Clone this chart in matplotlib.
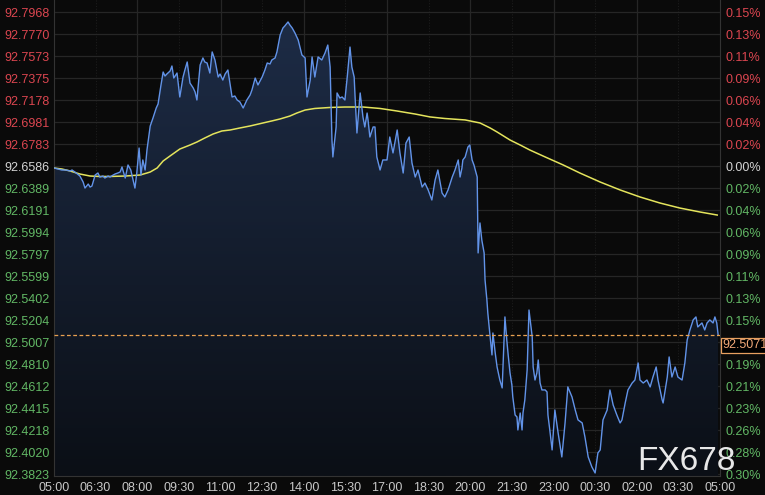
import numpy as np
import matplotlib.pyplot as plt
from matplotlib.colors import LinearSegmentedColormap
from matplotlib.transforms import blended_transform_factory

plt.rcParams['font.family'] = ['Liberation Sans', 'DejaVu Sans']

# minutes since 05:00 and price
minutes = [0, 9, 17, 26, 35, 39, 48, 56, 63, 67, 74, 78, 82, 89, 95, 99, 106, 110, 117, 121,
           128, 132, 138, 143, 147, 154, 160, 166, 171, 175, 179, 184, 188, 192, 197, 201, 208, 214, 221, 225,
           231, 236, 240, 244, 251, 255, 259, 266, 272, 279, 283, 288, 294, 301, 305, 309, 316, 322, 326, 331,
           337, 342, 348, 355, 359, 365, 370, 376, 381, 385, 391, 396, 402, 409, 417, 424, 428, 435, 441, 450,
           456, 461, 467, 471, 478, 482, 489, 495, 499, 506, 510, 515, 521, 528, 536, 543, 547, 554, 558, 564,
           571, 579, 586, 592, 597, 601, 603, 610, 612, 618, 623, 629, 634, 640, 644, 649, 651, 655, 662, 668,
           672, 677, 679, 683, 688, 690, 694, 698, 705, 711, 720, 726, 733, 742, 748, 755, 761, 768, 774, 781,
           787, 796, 802, 809, 817, 824, 830, 839, 845, 852, 861, 867, 874, 878, 882, 884, 889, 895, 899, 904,
           908, 915, 917, 921, 925, 930, 932, 936, 938, 943, 947, 949, 954, 958, 964, 969, 975, 979, 982, 986,
           990, 992, 997, 1001, 1003, 1008, 1012, 1014, 1018, 1023, 1027, 1034, 1036, 1040, 1044, 1047, 1051, 1055, 1062, 1066,
           1068, 1072, 1077, 1083, 1090, 1098, 1105, 1111, 1120, 1127, 1133, 1142, 1148, 1155, 1163, 1170, 1176, 1181, 1187, 1196,
           1202, 1209, 1217, 1224, 1228, 1235, 1241, 1250, 1256, 1263, 1267, 1274, 1282, 1289, 1295, 1302, 1306, 1315, 1317, 1326,
           1330, 1336, 1343, 1349, 1358, 1364, 1369, 1375, 1382, 1388, 1392, 1401, 1407, 1412, 1418, 1425, 1429, 1433, 1436]
price = [92.6569, 92.6560, 92.6551, 92.6551, 92.6542, 92.6551, 92.6524, 92.6497, 92.6443, 92.6389,
         92.6425, 92.6398, 92.6407, 92.6506, 92.6524, 92.6488, 92.6497, 92.6479, 92.6497, 92.6488,
         92.6506, 92.6515, 92.6524, 92.6533, 92.6578, 92.6479, 92.6596, 92.6551, 92.6461, 92.6389,
         92.6524, 92.6748, 92.6506, 92.6641, 92.6551, 92.6730, 92.6945, 92.7017, 92.7107, 92.7143,
         92.7305, 92.7430, 92.7394, 92.7412, 92.7439, 92.7484, 92.7376, 92.7421, 92.7206, 92.7385,
         92.7448, 92.7520, 92.7331, 92.7287, 92.7251, 92.7179, 92.7493, 92.7556, 92.7520, 92.7511,
         92.7421, 92.7610, 92.7538, 92.7385, 92.7412, 92.7358, 92.7412, 92.7448, 92.7314, 92.7206,
         92.7215, 92.7179, 92.7161, 92.7107, 92.7179, 92.7224, 92.7269, 92.7376, 92.7314, 92.7385,
         92.7448, 92.7511, 92.7502, 92.7538, 92.7556, 92.7610, 92.7762, 92.7825, 92.7843, 92.7879,
         92.7852, 92.7825, 92.7780, 92.7717, 92.7583, 92.7556, 92.7206, 92.7358, 92.7565, 92.7385,
         92.7565, 92.7538, 92.7601, 92.7672, 92.7475, 92.6820, 92.6668, 92.6937, 92.7242, 92.7197,
         92.7206, 92.7179, 92.7385, 92.7654, 92.7475, 92.7385, 92.7206, 92.6883, 92.7242, 92.7027,
         92.6937, 92.7062, 92.7000, 92.6847, 92.6910, 92.6937, 92.6937, 92.6668, 92.6551, 92.6641,
         92.6641, 92.6847, 92.6704, 92.6910, 92.6704, 92.6524, 92.6793, 92.6847, 92.6614, 92.6488,
         92.6551, 92.6398, 92.6434, 92.6372, 92.6282, 92.6461, 92.6551, 92.6345, 92.6309, 92.6372,
         92.6488, 92.6551, 92.6641, 92.6488, 92.6569, 92.6641, 92.6668, 92.6757, 92.6775, 92.6641,
         92.6596, 92.6488, 92.5807, 92.6076, 92.5923, 92.5807, 92.5564, 92.5385, 92.5268, 92.5053,
         92.4892, 92.5089, 92.4910, 92.4784, 92.4667, 92.4596, 92.5233, 92.5026, 92.4892, 92.4730,
         92.4623, 92.4515, 92.4353, 92.4336, 92.4219, 92.4371, 92.4219, 92.4371, 92.4488, 92.4757,
         92.5295, 92.5053, 92.4784, 92.4667, 92.4730, 92.4847, 92.4640, 92.4578, 92.4578, 92.4560,
         92.4353, 92.4219, 92.4040, 92.4398, 92.4192, 92.3977, 92.4282, 92.4605, 92.4515, 92.4398,
         92.4309, 92.4282, 92.4156, 92.3977, 92.3887, 92.3833, 92.4013, 92.4040, 92.4309, 92.4398,
         92.4578, 92.4443, 92.4353, 92.4282, 92.4309, 92.4461, 92.4578, 92.4640, 92.4667, 92.4820,
         92.4667, 92.4640, 92.4667, 92.4605, 92.4694, 92.4784, 92.4667, 92.4488, 92.4461, 92.4694,
         92.4874, 92.4694, 92.4784, 92.4694, 92.4667, 92.4820, 92.5026, 92.5116, 92.5206, 92.5233,
         92.5143, 92.5179, 92.5116, 92.5179, 92.5206, 92.5179, 92.5233, 92.5179, 92.5071]

# moving average (yellow)
ma_minutes = [0, 17, 35, 56, 78, 99, 121, 154, 186, 201, 208, 223, 236, 251, 272, 294, 309, 326, 344, 363,
              381, 402, 424, 452, 471, 489, 510, 525, 543, 564, 597, 629, 668, 705, 742, 755, 781, 813, 845, 889,
              921, 943, 958, 986, 1008, 1029, 1062, 1101, 1137, 1181, 1224, 1267, 1310, 1353, 1397, 1434]
ma_price = [92.6569, 92.6560, 92.6542, 92.6515, 92.6497, 92.6493, 92.6493, 92.6497, 92.6506, 92.6524,
            92.6533, 92.6569, 92.6632, 92.6677, 92.6739, 92.6775, 92.6802, 92.6838, 92.6874, 92.6901,
            92.6910, 92.6928, 92.6946, 92.6973, 92.6991, 92.7009, 92.7035, 92.7062, 92.7089, 92.7103,
            92.7112, 92.7116, 92.7116, 92.7103, 92.7080, 92.7071, 92.7053, 92.7027, 92.7013, 92.7000,
            92.6973, 92.6928, 92.6892, 92.6820, 92.6775, 92.6730, 92.6668, 92.6596, 92.6524, 92.6443,
            92.6372, 92.6309, 92.6255, 92.6210, 92.6174, 92.6147]

y_ticks = [92.7968, 92.7770, 92.7573, 92.7375, 92.7178, 92.6981, 92.6783, 92.6586, 92.6389, 92.6191,
           92.5994, 92.5797, 92.5599, 92.5402, 92.5204, 92.5007, 92.4810, 92.4612, 92.4415, 92.4218,
           92.4020, 92.3823]
pct_labels = ['0.15%', '0.13%', '0.11%', '0.09%', '0.06%', '0.04%', '0.02%', '0.00%', '0.02%', '0.04%',
              '0.06%', '0.09%', '0.11%', '0.13%', '0.15%', '0.17%', '0.19%', '0.21%', '0.23%', '0.26%',
              '0.28%', '0.30%']
x_ticks = list(range(0, 1441, 90))
x_labels = ['05:00', '06:30', '08:00', '09:30', '11:00', '12:30', '14:00', '15:30', '17:00',
            '18:30', '20:00', '21:30', '23:00', '00:30', '02:00', '03:30', '05:00']
open_price = 92.6586
last_price = 92.5071

BG = '#0a0a0a'
RED = '#dc4650'
GREEN = '#62b865'
NEUTRAL = '#d4d4d4'
GRID = '#262626'

fig = plt.figure(figsize=(7.65, 4.95), dpi=100, facecolor=BG)
ax = fig.add_axes([54 / 765, 19 / 495, 666 / 765, 476 / 495])
ax.set_facecolor(BG)
ylo, yhi = 92.3806, 92.8076

# gradient area under the price line
poly = ax.fill_between(minutes, price, ylo, facecolor='none', edgecolor='none')
grad = np.linspace(1, 0, 256).reshape(-1, 1)
cmap = LinearSegmentedColormap.from_list('area', ['#0b0f16', '#1e2d48'])
im = ax.imshow(grad, extent=[0, 1440, ylo, yhi], aspect='auto', cmap=cmap,
               origin='upper', zorder=1)
im.set_clip_path(poly.get_paths()[0], transform=ax.transData)
ax.set_xlim(0, 1440)
ax.set_ylim(ylo, yhi)

# grid
for t in x_ticks[1:-1]:
    if t % 180 == 0:
        ax.axvline(t, color=GRID, lw=0.9, zorder=0.5)
    else:
        ax.axvline(t, color='#1c1c1c', lw=0.8, ls=(0, (1, 1.5)), zorder=0.5)
for v in y_ticks:
    ax.axhline(v, color=GRID, lw=0.9, zorder=0.5)

ax.plot(ma_minutes, ma_price, color='#e4e45c', lw=1.1, zorder=3)
ax.plot(minutes, price, color='#6293e8', lw=1.0, zorder=4)
ax.axhline(last_price, color='#e8a050', lw=0.9, ls=(0, (3, 2)), zorder=5)

ax.set_xticks(x_ticks)
ax.set_xticklabels(x_labels)
ax.set_yticks(y_ticks)
ax.set_yticklabels([f'{v:.4f}' for v in y_ticks])
ax.tick_params(axis='both', length=0, labelsize=9)
ax.tick_params(axis='x', colors='#c8c8c8', pad=4)
ax.tick_params(axis='y', pad=3)
for lab, v in zip(ax.get_yticklabels(), y_ticks):
    lab.set_color(RED if v > open_price + 1e-6 else (GREEN if v < open_price - 1e-6 else NEUTRAL))

for side in ['left', 'bottom', 'right']:
    ax.spines[side].set_color('#333333')
ax.spines['top'].set_visible(False)

ax2 = ax.twinx()
ax2.set_ylim(ylo, yhi)
ax2.set_yticks(y_ticks)
ax2.set_yticklabels(pct_labels)
ax2.tick_params(axis='y', length=0, labelsize=9, pad=4)
for lab, v in zip(ax2.get_yticklabels(), y_ticks):
    lab.set_color(RED if v > open_price + 1e-6 else (GREEN if v < open_price - 1e-6 else NEUTRAL))
for s in ax2.spines.values():
    s.set_visible(False)

# last price tag
trans = blended_transform_factory(ax2.transAxes, ax2.transData)
ax2.annotate(f'{last_price:.4f}', xy=(1.0, last_price), xycoords=trans,
             xytext=(1.8, -7.5), textcoords='offset points', ha='left', va='center',
             fontsize=9, color='#f0a878', zorder=10, annotation_clip=False,
             bbox=dict(boxstyle='square,pad=0.15', facecolor='#000000', edgecolor='#e8a060', lw=0.9))

fig.text(686 / 765, 25 / 495, 'FX678', ha='center', va='baseline', fontsize=24, color='#e8e8e8')

fig.savefig('out.png', dpi=100, facecolor=BG)
